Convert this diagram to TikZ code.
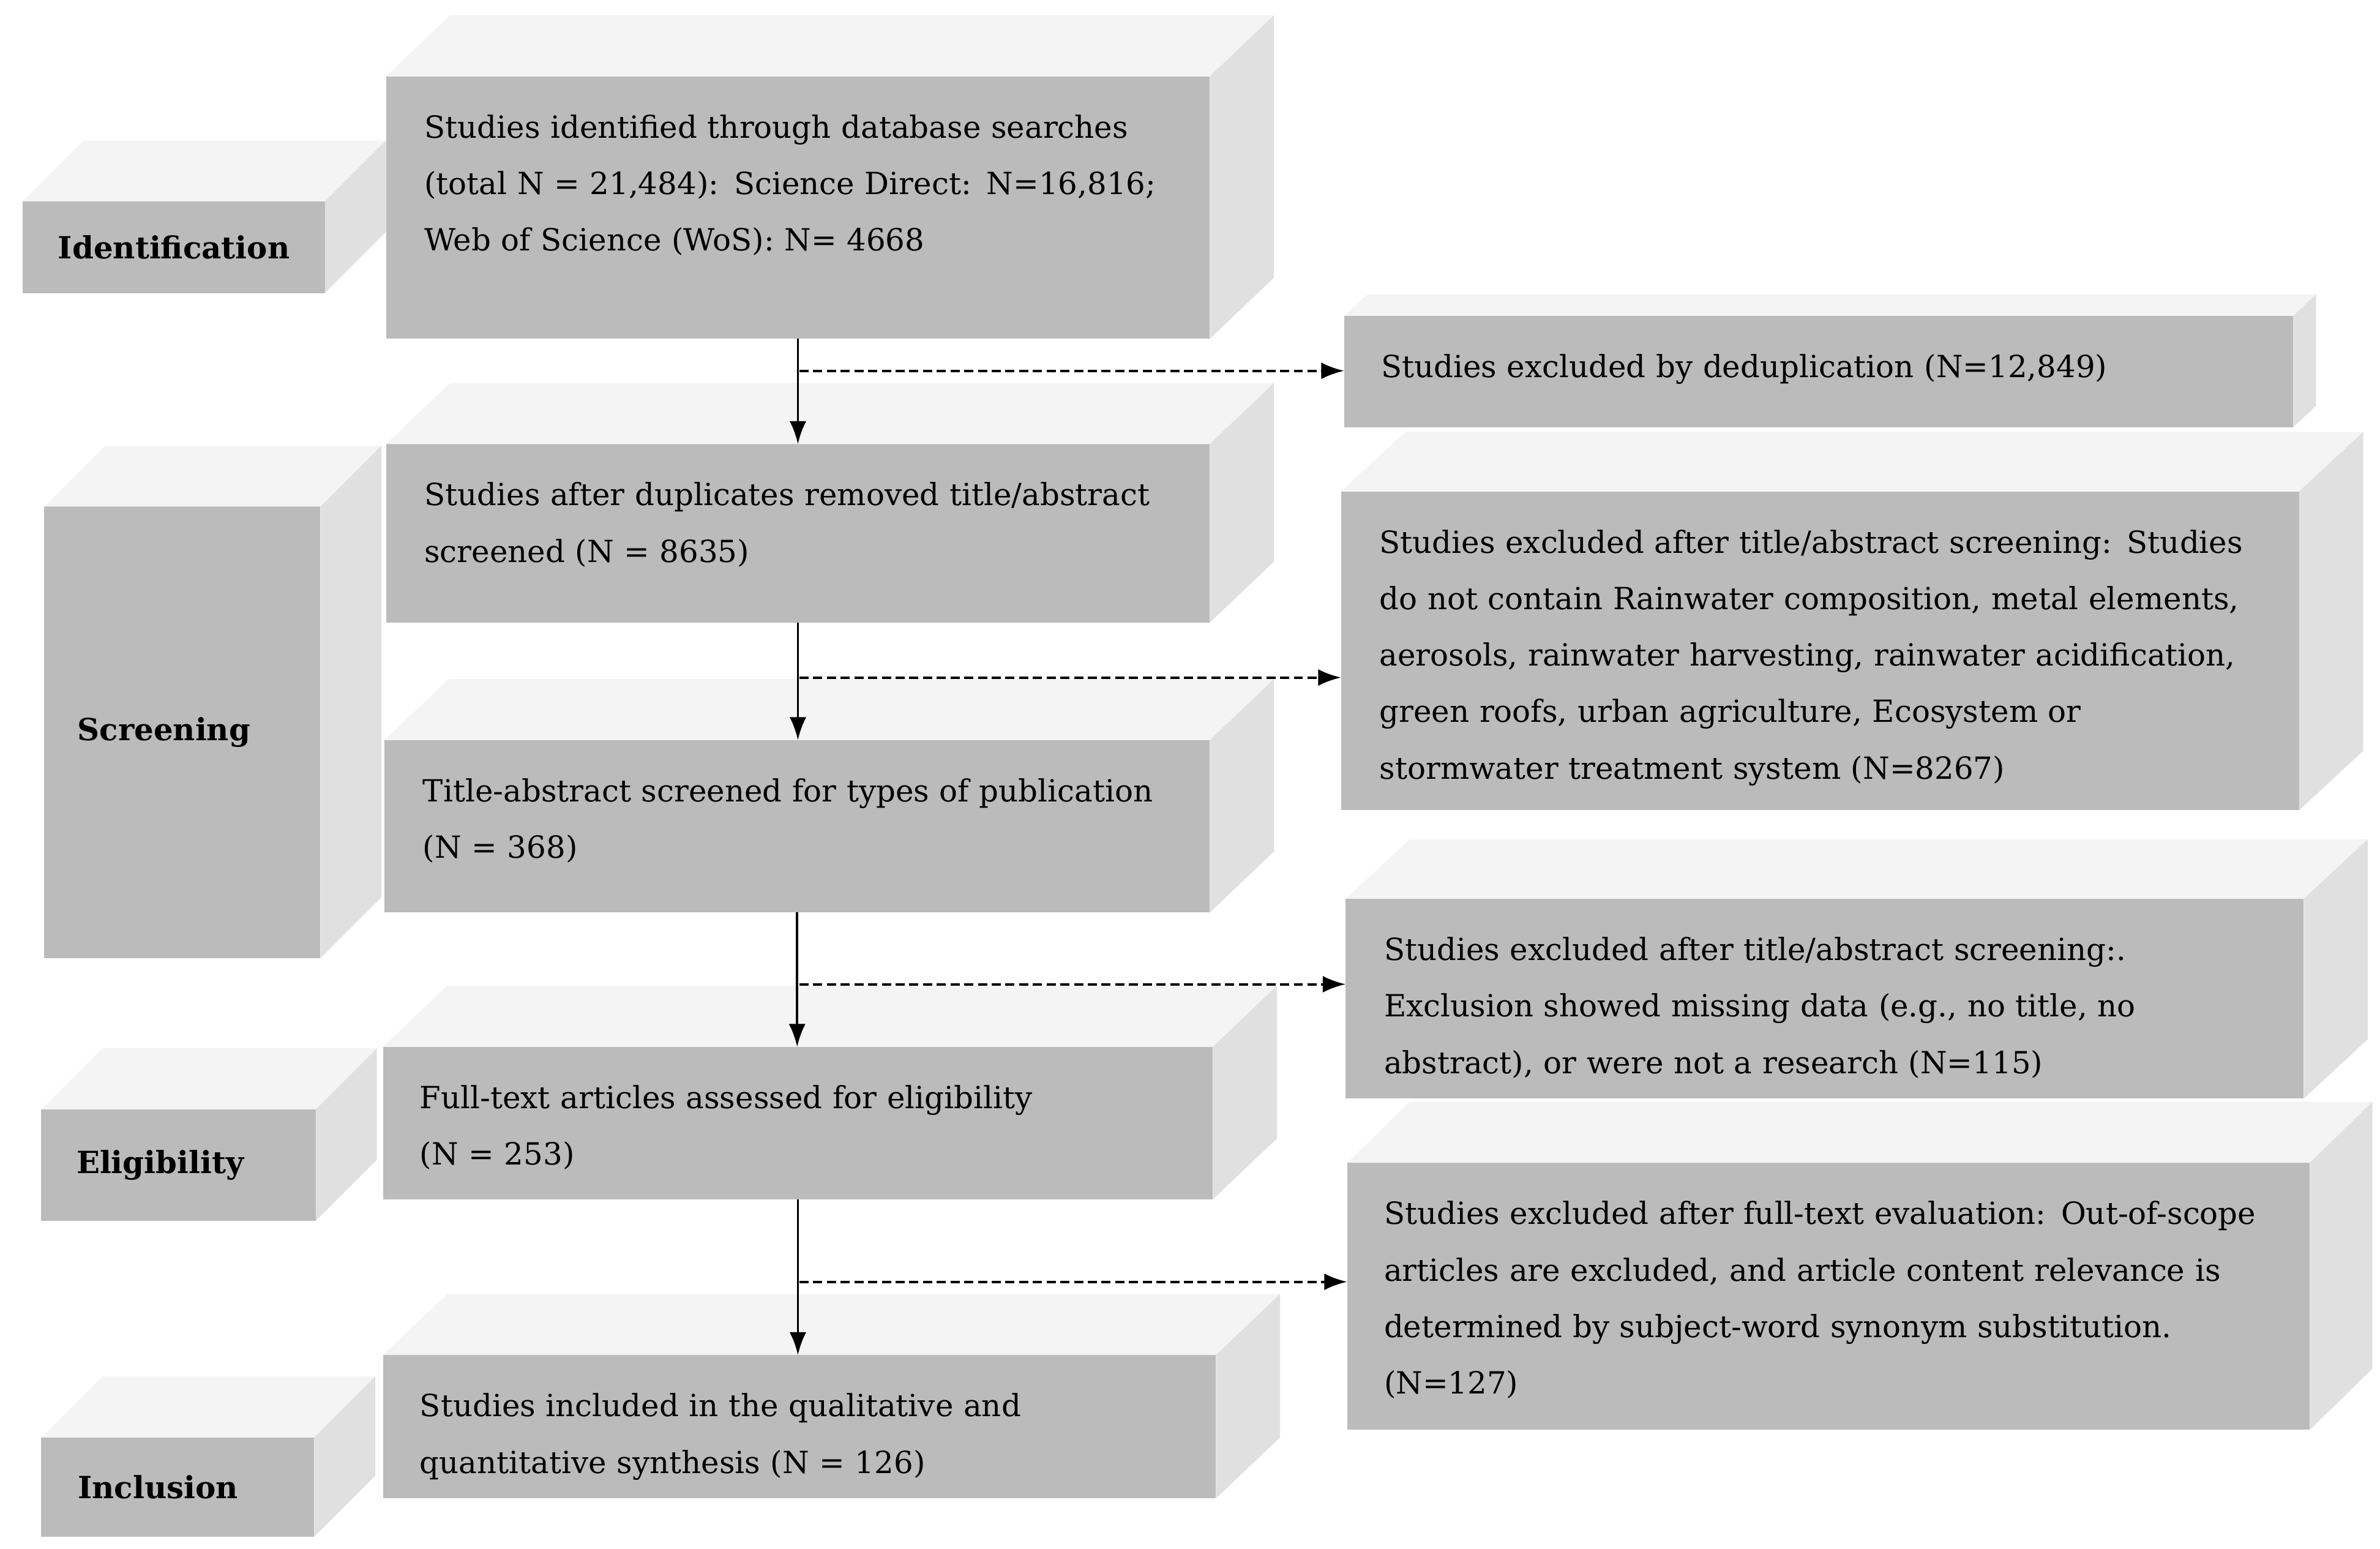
\documentclass[tikz,border=0pt]{standalone}
\usepackage{fontspec}
\setmainfont{DejaVu Serif}
\usetikzlibrary{calc,arrows.meta}
\definecolor{frontc}{HTML}{BBBBBB}
\definecolor{sidec}{HTML}{E0E0E0}
\definecolor{topc}{HTML}{F4F4F4}
\newcommand\jl[1]{\makebox[\hsize][s]{#1}}
\newcommand\tbox[7]{%
  \node[fill=frontc,inner sep=0,outer sep=0,minimum width=#4pt,minimum height=#5pt,anchor=north west] (#1) at (#2,#3) {};
  \fill[topc] (#1.north west) -- ++(#6pt,#7pt) -- ($(#1.north east)+(#6pt,#7pt)$) -- (#1.north east) -- cycle;
  \fill[sidec] (#1.north east) -- ++(#6pt,#7pt) -- ($(#1.south east)+(#6pt,#7pt)$) -- (#1.south east) -- cycle;
}
\begin{document}
\begin{tikzpicture}[x=1pt,y=-1pt,
  txt/.style={anchor=north west,inner sep=0,align=left,font=\fontsize{20}{37}\selectfont},
  lab/.style={inner sep=0,font=\fontsize{20}{26}\selectfont\bfseries},
  arr/.style={line width=1.6pt,-{Latex[length=15pt,width=11pt]}},
  dsh/.style={line width=1.6pt,dash pattern=on 6pt off 3pt,-{Latex[length=15pt,width=11pt]}}]
\useasboundingbox (0,0) rectangle (1560,1015);
% stage labels
\tbox{L1}{15}{132}{198}{60}{40}{40}
\tbox{L2}{29}{332}{181}{296}{40}{40}
\tbox{L3}{27}{727}{180}{73}{40}{40}
\tbox{L4}{27}{942}{179}{65}{40}{40}
\node[lab] (l1) at (L1) {Identification};
\node[lab] (l2) at ([xshift=-12pt]L2) {Screening};
\node[lab] (l3) at ([xshift=-12pt]L3) {Eligibility};
\node[lab] (l4) at ([xshift=-13pt]L4) {Inclusion};
% main boxes
\tbox{B1}{253}{50}{540}{172}{42}{40}
\tbox{B2}{253}{291}{540}{117}{42}{40}
\tbox{B3}{252}{485}{541}{113}{42}{40}
\tbox{B4}{251}{686}{544}{100}{42}{40}
\tbox{B5}{251}{888}{546}{94}{42}{40}
% exclusion boxes
\tbox{E1}{881}{207}{622}{73}{15}{14}
\tbox{E2}{879}{322}{628}{209}{42}{39}
\tbox{E3}{882}{589}{628}{131}{42}{39}
\tbox{E4}{883}{762}{631}{175}{41}{40}
% texts
\node[txt,text width=493pt] (t1) at (278,75) {Studies identified through database searches\\\jl{(total N = 21,484): Science Direct: N=16,816;}\\Web of Science (WoS): N= 4668};
\node[txt,text width=493pt] (t2) at (278,316) {\jl{Studies after duplicates removed title/abstract}\\screened (N = 8635)};
\node[txt,text width=492pt] (t3) at (277,510) {\jl{Title-abstract screened for types of publication}\\(N = 368)};
\node[txt,text width=495pt] (t4) at (275,711) {Full-text articles assessed for eligibility\\(N = 253)};
\node[txt,text width=498pt] (t5) at (275,913) {\jl{Studies included in the qualitative and}\\quantitative synthesis (N = 126)};
\node[txt,text width=580pt] (u1) at (905,232) {Studies excluded by deduplication (N=12,849)};
\node[txt,text width=578pt] (u2) at (904,347) {\jl{Studies excluded after title/abstract screening: Studies}\\\jl{do not contain Rainwater composition, metal elements,}\\\jl{aerosols, rainwater harvesting, rainwater acidification,}\\\jl{green roofs, urban agriculture, Ecosystem or}\\stormwater treatment system (N=8267)};
\node[txt,text width=580pt] (u3) at (907,614) {\jl{Studies excluded after title/abstract screening:.}\\\jl{Exclusion showed missing data (e.g., no title, no}\\abstract), or were not a research (N=115)};
\node[txt,text width=582pt] (u4) at (907,787) {\jl{Studies excluded after full-text evaluation: Out-of-scope}\\\jl{articles are excluded, and article content relevance is}\\\jl{determined by subject-word synonym substitution.}\\(N=127)};
% connectors
\draw[arr] (B1.south) -- (B1.south |- B2.north);
\draw[arr] (B2.south) -- (B2.south |- B3.north);
\draw[arr] (B3.south) -- (B3.south |- B4.north);
\draw[arr] (B4.south) -- (B4.south |- B5.north);
\coordinate (d1) at (524,243);
\coordinate (d2) at (524,444);
\coordinate (d3) at (524,645);
\coordinate (d4) at (524,840);
\draw[dsh] (d1) -- (d1 -| E1.west);
\draw[dsh] (d2) -- (d2 -| E2.west);
\draw[dsh] (d3) -- (d3 -| E3.west);
\draw[dsh] (d4) -- (d4 -| E4.west);
\end{tikzpicture}
\end{document}
